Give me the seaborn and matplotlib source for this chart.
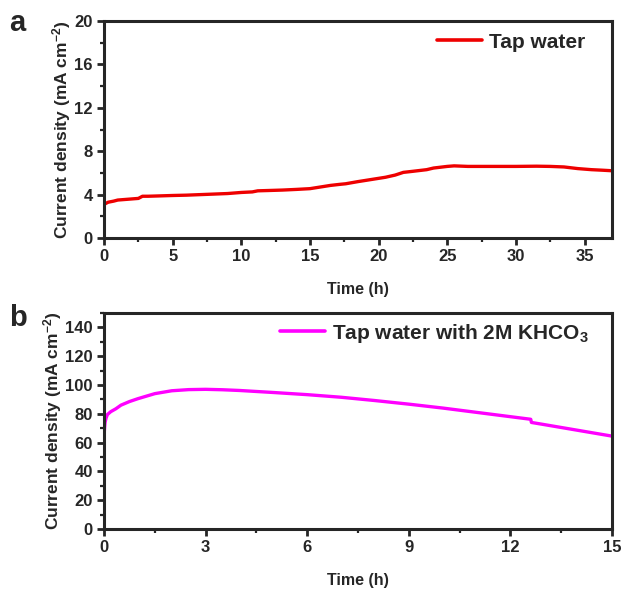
import numpy as np
import pandas as pd
import seaborn as sns
import matplotlib
matplotlib.use("Agg")
import matplotlib.pyplot as plt
from matplotlib.ticker import MultipleLocator

# Panel a: tap water
time_a = [0, 0.3, 0.7, 1.0, 1.5, 2.0, 2.5, 2.8, 3.2, 4, 5, 6, 7, 8, 9, 10, 10.8, 11.2,
          12, 13, 14, 15, 16, 16.5, 17.2, 17.6, 18.5, 19.5, 20.5, 21.2, 21.8, 22.5, 23.5,
          24, 25, 25.5, 26.5, 28, 30, 31.5, 32.5, 33.5, 34.5, 35.5, 36.3, 37]
cur_a = [3.1, 3.3, 3.4, 3.5, 3.55, 3.6, 3.65, 3.85, 3.85, 3.88, 3.92, 3.95, 4.0, 4.05,
         4.1, 4.2, 4.25, 4.35, 4.38, 4.42, 4.48, 4.55, 4.75, 4.85, 4.95, 5.0, 5.2, 5.4,
         5.6, 5.8, 6.05, 6.15, 6.3, 6.45, 6.6, 6.65, 6.6, 6.6, 6.6, 6.62, 6.6, 6.55,
         6.4, 6.3, 6.25, 6.2]

# Panel b: tap water with 2M KHCO3
time_b = [0, 0.01, 0.03, 0.06, 0.1, 0.2, 0.35, 0.5, 0.75, 1.0, 1.5, 2.0, 2.5, 3.0, 3.5,
          4.0, 5.0, 6.0, 7.0, 8.0, 9.0, 10.0, 11.0, 12.0, 12.6, 12.62, 13.0, 14.0, 15.0]
cur_b = [55, 68, 74, 77, 79.5, 81.5, 83.5, 86, 88.5, 90.5, 94, 96, 96.8, 97, 96.7,
         96.2, 94.8, 93.3, 91.5, 89.2, 86.7, 84, 81, 78, 76.2, 74, 72.5, 68.5, 64.5]

legend_a = "Tap water"
legend_b = r"Tap water with 2M KHCO$_\mathbf{3}$"

sns.set_style("ticks")
plt.rcParams['font.family'] = ['Liberation Sans', 'DejaVu Sans']
plt.rcParams['font.weight'] = 'bold'
plt.rcParams['mathtext.fontset'] = 'custom'
plt.rcParams['mathtext.rm'] = 'Liberation Sans:bold'
plt.rcParams['mathtext.bf'] = 'Liberation Sans:bold'
plt.rcParams['mathtext.it'] = 'Liberation Sans:bold'

fig = plt.figure(figsize=(6.24, 5.97), dpi=100)
ax1 = fig.add_axes([0.1667, 0.6013, 0.8141, 0.3635])
ax2 = fig.add_axes([0.1667, 0.1139, 0.8141, 0.3618])

df_a = pd.DataFrame({"t": time_a, "j": cur_a})
df_b = pd.DataFrame({"t": time_b, "j": cur_b})

sns.lineplot(data=df_a, x="t", y="j", ax=ax1, color="#ee0000", lw=2.4, label=legend_a)
sns.lineplot(data=df_b, x="t", y="j", ax=ax2, color="#ff00ff", lw=2.4, label=legend_b)

ylabel = r"Current density (mA cm$^{\mathbf{-2}}$)"
for ax, xlim, ylim, xmaj, xmin, ymaj, ymin, anchor in [
        (ax1, (0, 37), (0, 20), 5, 2.5, 4, 2, (0.963, 0.903)),
        (ax2, (0, 15), (0, 150), 3, 1.5, 20, 10, (0.970, 0.907))]:
    ax.set_xlim(*xlim)
    ax.set_ylim(*ylim)
    ax.xaxis.set_major_locator(MultipleLocator(xmaj))
    ax.xaxis.set_minor_locator(MultipleLocator(xmin))
    ax.yaxis.set_major_locator(MultipleLocator(ymaj))
    ax.yaxis.set_minor_locator(MultipleLocator(ymin))
    ax.tick_params(which='major', direction='out', length=5, width=2, labelsize=12, pad=3)
    ax.tick_params(which='minor', direction='out', length=3, width=1.6)
    for s in ax.spines.values():
        s.set_linewidth(2.2)
        s.set_visible(True)
    for lab in ax.get_xticklabels() + ax.get_yticklabels():
        lab.set_fontweight('bold')
    ax.set_xlabel("Time (h)", fontsize=11.5, fontweight='bold', labelpad=13)
    ax.set_ylabel(ylabel, fontsize=12.5, fontweight='bold', labelpad=1)
    leg = ax.legend(loc='center right', bbox_to_anchor=anchor, frameon=False,
                    fontsize=15, handlelength=2.2, handletextpad=0.3, borderaxespad=0)
    for t in leg.get_texts():
        t.set_fontweight('bold')
    for l in leg.get_lines():
        l.set_linewidth(2.6)

ax2.set_yticks([0, 20, 40, 60, 80, 100, 120, 140])
ax2.set_ylim(0, 150)

fig.text(0.015, 0.985, "a", fontsize=21, fontweight='bold', va='top', ha='left')
fig.text(0.015, 0.49, "b", fontsize=21, fontweight='bold', va='top', ha='left')

fig.savefig("out.png", dpi=100)
